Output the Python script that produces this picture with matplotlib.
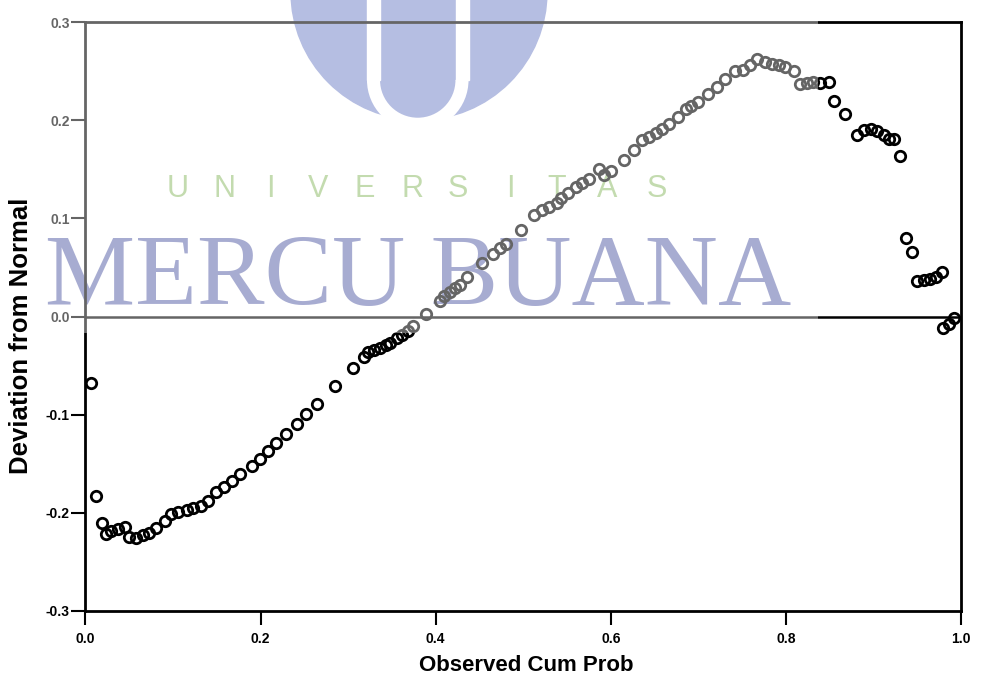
import matplotlib
matplotlib.use("Agg")
import matplotlib.pyplot as plt
from matplotlib.patches import Circle, Rectangle, Arc
from matplotlib.transforms import IdentityTransform

plt.rcParams['font.family'] = ['Liberation Sans', 'DejaVu Sans']
plt.rcParams['axes.unicode_minus'] = False

# detrended normal Q-Q plot values
obs_cum_prob = [0.006, 0.012, 0.019, 0.023, 0.029, 0.037, 0.045, 0.050, 0.058, 0.066,
                0.072, 0.080, 0.091, 0.098, 0.106, 0.116, 0.123, 0.132, 0.140, 0.149,
                0.158, 0.167, 0.176, 0.190, 0.199, 0.209, 0.218, 0.229, 0.242, 0.252,
                0.264, 0.285, 0.305, 0.318, 0.323, 0.329, 0.336, 0.343, 0.348, 0.356,
                0.362, 0.368, 0.374, 0.389, 0.405, 0.410, 0.416, 0.422, 0.428, 0.436,
                0.453, 0.465, 0.473, 0.480, 0.497, 0.512, 0.521, 0.529, 0.539, 0.543,
                0.551, 0.560, 0.567, 0.575, 0.587, 0.592, 0.600, 0.615, 0.627, 0.636,
                0.644, 0.652, 0.659, 0.667, 0.677, 0.686, 0.692, 0.700, 0.711, 0.721,
                0.730, 0.742, 0.751, 0.759, 0.767, 0.776, 0.784, 0.792, 0.799, 0.809,
                0.816, 0.824, 0.831, 0.839, 0.849, 0.855, 0.868, 0.881, 0.889, 0.897,
                0.904, 0.912, 0.918, 0.924, 0.930, 0.937, 0.944, 0.950, 0.958, 0.965,
                0.972, 0.978, 0.980, 0.986, 0.992]
deviation = [-0.068, -0.183, -0.210, -0.222, -0.219, -0.216, -0.214, -0.225, -0.226, -0.223,
             -0.221, -0.215, -0.208, -0.201, -0.199, -0.197, -0.195, -0.193, -0.188, -0.179,
             -0.174, -0.168, -0.160, -0.152, -0.145, -0.137, -0.129, -0.120, -0.109, -0.099,
             -0.089, -0.071, -0.052, -0.041, -0.036, -0.034, -0.032, -0.029, -0.027, -0.022,
             -0.019, -0.015, -0.010, 0.003, 0.016, 0.021, 0.025, 0.029, 0.032, 0.040,
             0.055, 0.064, 0.070, 0.074, 0.088, 0.103, 0.108, 0.112, 0.116, 0.121,
             0.126, 0.132, 0.136, 0.140, 0.150, 0.144, 0.148, 0.159, 0.170, 0.180,
             0.183, 0.187, 0.191, 0.196, 0.203, 0.211, 0.214, 0.218, 0.227, 0.234,
             0.242, 0.250, 0.251, 0.256, 0.262, 0.259, 0.257, 0.256, 0.254, 0.250,
             0.237, 0.238, 0.239, 0.238, 0.239, 0.220, 0.206, 0.185, 0.190, 0.191,
             0.189, 0.185, 0.181, 0.181, 0.164, 0.080, 0.066, 0.036, 0.037, 0.038,
             0.040, 0.045, -0.012, -0.008, -0.002]

x_ticks = [0.0, 0.2, 0.4, 0.6, 0.8, 1.0]
y_ticks = [-0.3, -0.2, -0.1, 0.0, 0.1, 0.2, 0.3]

W, H = 987, 681
fig = plt.figure(figsize=(W / 100, H / 100), dpi=100)
ax = fig.add_axes([85.5 / W, 70 / H, 875.5 / W, 589 / H])
ax.set_facecolor('none')

ax.plot(obs_cum_prob, deviation, linestyle='none', marker='o', markersize=7.5,
        markerfacecolor='none', markeredgecolor='black', markeredgewidth=2.0)
ax.axhline(0, color='black', lw=1.8)

ax.set_xlim(0, 1)
ax.set_ylim(-0.3, 0.3)
ax.set_xticks(x_ticks)
ax.set_yticks(y_ticks)
ax.set_xticklabels(['%.1f' % v for v in x_ticks])
ax.set_yticklabels(['%.1f' % v for v in y_ticks])
for s in ax.spines.values():
    s.set_linewidth(2.0)
ax.tick_params(axis='both', direction='out', length=10, width=1.5, labelsize=10)
ax.tick_params(axis='x', pad=5)
ax.tick_params(axis='y', pad=1.5)
for lab in ax.get_xticklabels() + ax.get_yticklabels():
    lab.set_fontweight('bold')

ax.set_xlabel('Observed Cum Prob', fontsize=16, fontweight='bold')
ax.set_ylabel('Deviation from Normal', fontsize=18.5, fontweight='bold')
ax.xaxis.set_label_coords(0.503, -0.075)
ax.yaxis.set_label_coords(-0.060, 0.467)

# watermark (pixel coordinates, drawn under the axes)
px = IdentityTransform()
logo = '#8593cf'
fig.add_artist(Circle((419, H + 8), 128, color=logo, transform=px, zorder=-2))
fig.add_artist(Rectangle((367, H - 80), 13, 100, color='white', transform=px, zorder=-1.9))
fig.add_artist(Rectangle((455.5, H - 80), 13, 100, color='white', transform=px, zorder=-1.9))
fig.add_artist(Arc((417.75, H - 80), 88.5, 88.5, theta1=180, theta2=360,
                   color='white', lw=9.4, transform=px, zorder=-1.9))

letters = 'UNIVERSITAS'
letter_x = [178, 224, 270, 318, 365, 412, 458, 510, 557, 607, 657]
for ch, lx in zip(letters, letter_x):
    fig.text(lx, H - 197, ch, transform=px, ha='center', va='baseline',
             fontsize=22, family='Liberation Sans', color='#9cc47a', zorder=-1)

fig.text(418, H - 305, 'MERCU BUANA', transform=px, ha='center', va='baseline',
         fontsize=73, family='Liberation Serif', color='#6e75b4', zorder=-1)

# faded white layer of the watermark image
fig.add_artist(Rectangle((35, H - 333), 783, 333, facecolor='white', edgecolor='none',
                         alpha=0.4, transform=px, zorder=10))

fig.savefig('out.png', dpi=100)
